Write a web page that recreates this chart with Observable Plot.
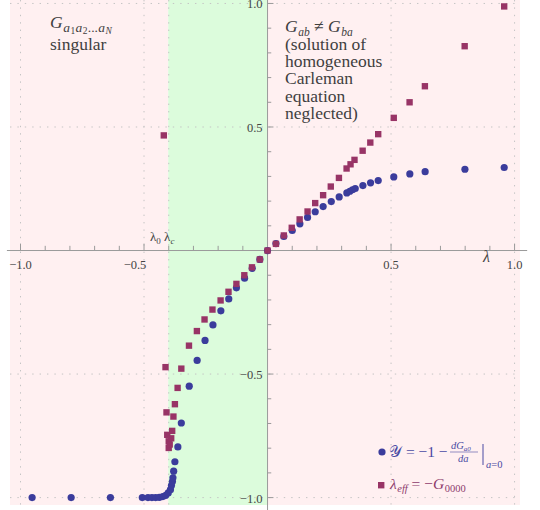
<!DOCTYPE html>
<html>
<head>
<meta charset="utf-8">
<script src="https://cdn.jsdelivr.net/npm/d3@7"></script>
<script src="https://cdn.jsdelivr.net/npm/@observablehq/plot@0.6"></script>
<style>
  html, body { margin: 0; padding: 0; background: #fff; }
  #chart svg { display: block; }
  #chart svg text { font-family: "Liberation Serif", "Times New Roman", "DejaVu Serif", serif; }
</style>
</head>
<body>
<div id="chart"></div>
<script>
// Series 𝒴 = −1 − dG_a0/da |_{a=0}  (circles)
const yCalX = [-0.953, -0.795, -0.636, -0.507, -0.484, -0.468, -0.453, -0.438, -0.424, -0.412, -0.402,
  -0.393, -0.389, -0.385, -0.383, -0.380, -0.375, -0.363, -0.349, -0.317, -0.285, -0.253, -0.221,
  -0.189, -0.157, -0.126, -0.093, -0.062, -0.031, 0, 0.034, 0.066, 0.100, 0.131, 0.162, 0.193,
  0.225, 0.258, 0.290, 0.321, 0.333, 0.344, 0.355, 0.386, 0.417, 0.448, 0.511, 0.576, 0.638,
  0.799, 0.958];
const yCalY = [-1.0, -1.0, -1.0, -1.0, -1.0, -1.0, -1.0, -0.999, -0.996, -0.991, -0.981,
  -0.968, -0.951, -0.935, -0.920, -0.893, -0.855, -0.795, -0.698, -0.549, -0.445, -0.364, -0.301,
  -0.244, -0.196, -0.151, -0.112, -0.072, -0.036, 0, 0.028, 0.057, 0.081, 0.108, 0.134, 0.157,
  0.178, 0.198, 0.217, 0.233, 0.240, 0.246, 0.251, 0.263, 0.274, 0.283, 0.298, 0.310, 0.319,
  0.329, 0.336];

// Series λ_eff = −G_0000  (squares)
const lamEffX = [-0.420, -0.413, -0.409, -0.406, -0.400, -0.400, -0.396, -0.390, -0.386, -0.381,
  -0.375, -0.364, -0.349, -0.318, -0.286, -0.255, -0.223, -0.190, -0.158, -0.126, -0.094, -0.063,
  -0.031, 0, 0.034, 0.066, 0.098, 0.130, 0.162, 0.193, 0.225, 0.256, 0.289, 0.320, 0.336, 0.352,
  0.385, 0.416, 0.448, 0.511, 0.575, 0.637, 0.798, 0.958];
const lamEffY = [0.466, -0.472, -0.655, -0.746, -0.772, -0.799, -0.785, -0.760, -0.730, -0.672,
  -0.622, -0.556, -0.478, -0.385, -0.326, -0.279, -0.239, -0.202, -0.167, -0.135, -0.100, -0.068,
  -0.036, 0, 0.027, 0.061, 0.092, 0.126, 0.158, 0.192, 0.224, 0.259, 0.294, 0.332, 0.349, 0.367,
  0.404, 0.437, 0.471, 0.537, 0.600, 0.665, 0.827, 0.988];

// Critical coupling and axis ticks
const lambdaC = -0.40;
const xTickValues = d3.range(-10, 11).filter(i => i !== 0).map(i => i / 10);
const yTickValues = d3.range(-10, 11).filter(i => i !== 0).map(i => i / 10);
const xTickLabels = [-1.0, -0.5, 0.5, 1.0];
const yTickLabels = [-1.0, -0.5, 0.5, 1.0];
const gridX = [-1.0, -0.5, lambdaC, 0.5, 1.0];
const gridY = [-1.0, -0.5, 0.5, 1.0];

const xDomain = [-1.0405, 1.024];
const yDomain = [-1.032, 1.012];

// Regions: singular / physical / asymmetric
const regionStart = [xDomain[0], lambdaC, 0];
const regionEnd = [lambdaC, 0, xDomain[1]];
const regionKind = ["singular", "physical", "asymmetric"];

const calRows = yCalX.map((x, i) => ({x, y: yCalY[i]}));
const effRows = lamEffX.map((x, i) => ({x, y: lamEffY[i]}));
const regions = regionKind.map((k, i) => ({k, x1: regionStart[i], x2: regionEnd[i]}));

const blue = "#3b3c9c";
const plum = "#983466";
const serif = "Liberation Serif, Times New Roman, DejaVu Serif, serif";
const fmt = d => (d < 0 ? "\u2212" : "") + Math.abs(d).toFixed(1);
const isMajor = d => Math.abs(Math.round(d * 10)) % 5 === 0;

const plot = Plot.plot({
  width: 540,
  height: 510,
  marginLeft: 10,
  marginRight: 20,
  marginTop: 0,
  marginBottom: 5,
  x: {domain: xDomain, axis: null},
  y: {domain: yDomain, axis: null},
  style: {fontFamily: serif, background: "white", overflow: "visible"},
  marks: [
    Plot.rect(regions, {x1: "x1", x2: "x2", fill: d => d.k === "physical" ? "#dcfcdc" : "#fff0f1"}),
    Plot.ruleX(gridX, {stroke: "#c4c4c4", strokeWidth: 1, strokeDasharray: "1.4,6"}),
    Plot.ruleY(gridY, {stroke: "#c4c4c4", strokeWidth: 1, strokeDasharray: "1.4,6"}),
    // axes through the origin
    Plot.ruleY([0], {x1: -1.053, x2: 1.053, stroke: "#9a9a9a", strokeWidth: 1}),
    Plot.ruleX([0], {y1: -1.06, y2: 1.02, stroke: "#9a9a9a", strokeWidth: 1}),
    Plot.ruleX(xTickValues, {y1: 0, y2: d => isMajor(d) ? 0.026 : 0.017, stroke: "#9a9a9a"}),
    Plot.ruleY(yTickValues, {x1: 0, x2: d => isMajor(d) ? 0.026 : 0.017, stroke: "#9a9a9a"}),
    Plot.text(xTickLabels.filter(d => d !== -0.5), {x: d => d, y: 0, dy: 14, text: fmt, fontSize: 12.5, fill: "#444"}),
    Plot.text(xTickLabels.filter(d => d === -0.5), {x: d => d, y: 0, dy: 14, dx: -9, text: fmt, fontSize: 12.5, fill: "#444"}),
    Plot.text(yTickLabels, {x: 0, y: d => d, dx: -5, dy: 1, textAnchor: "end", text: fmt, fontSize: 12.5, fill: "#444"}),
    // data
    Plot.dot(calRows, {x: "x", y: "y", r: 3.6, fill: blue}),
    Plot.dot(effRows, {x: "x", y: "y", r: 3.6, symbol: "square", fill: plum})
  ]
});

document.getElementById("chart").appendChild(plot);

// Annotations in rich text (subscripts etc.)
const svg = d3.select(plot);

function rich(x, y, parts, color, size) {
  const t = svg.append("text")
    .attr("x", x).attr("y", y)
    .attr("fill", color)
    .attr("text-anchor", "start")
    .style("font-family", serif)
    .style("font-size", size + "px");
  for (const [str, opt = {}] of parts) {
    const s = t.append("tspan")
      .attr("y", y + (opt.shift || 0))
      .style("font-size", (opt.size || size) + "px")
      .text(str);
    if (opt.italic) s.style("font-style", "italic");
    if (opt.family) s.style("font-family", opt.family);
    if (opt.dx) s.attr("dx", opt.dx);
  }
  return t;
}

const txt = "#3f3f3f";
// upper-left region label
rich(50, 28, [
  ["G", {italic: true}],
  ["a", {italic: true, size: 13.5, shift: 4, dx: 0.6}],
  ["1", {size: 9.5, shift: 6, dx: 0.4}],
  ["a", {italic: true, size: 13.5, shift: 4, dx: 0.4}],
  ["2", {size: 9.5, shift: 6, dx: 0.4}],
  ["...", {size: 13.5, shift: 4, dx: 0.4}],
  ["a", {italic: true, size: 13.5, shift: 4, dx: 0.4}],
  ["N", {italic: true, size: 9.5, shift: 6, dx: 0.4}]
], txt, 17.5);
rich(50, 50, [["singular"]], txt, 17.5);

// upper-right region label
rich(285, 32, [
  ["G", {italic: true}],
  ["ab", {italic: true, size: 11.5, shift: 4, dx: 0.6}],
  [" \u2260 ", {}],
  ["G", {italic: true}],
  ["ba", {italic: true, size: 11.5, shift: 4, dx: 0.6}]
], txt, 17.5);
["(solution of", "homogeneous", "Carleman", "equation", "neglected)"].forEach((line, i) => {
  rich(285, 50 + i * 17.2, [[line]], txt, 17.5);
});

// axis symbol and critical-coupling markers
rich(483, 262, [["\u03BB", {italic: true}]], "#444", 16);
rich(150, 241, [
  ["\u03BB"],
  ["0", {size: 9, shift: 3}],
  [" \u03BB", {}],
  ["c", {italic: true, size: 9, shift: 3}]
], "#444", 13);

// legend
const legBlue = "#4a4aa3";
const legPlum = "#8d3b6c";
svg.append("circle").attr("cx", 382).attr("cy", 452).attr("r", 3.6).attr("fill", blue);
svg.append("rect").attr("x", 378).attr("y", 482).attr("width", 6.4).attr("height", 6.4).attr("fill", plum);

rich(389, 457, [
  ["\uD835\uDCB4", {family: "DejaVu Sans, Noto Sans, serif"}],
  [" = \u22121 \u2212", {}]
], legBlue, 15.5);
rich(451, 449, [
  ["d", {italic: true}],
  ["G", {italic: true}],
  ["a0", {italic: true, size: 7, shift: 2}]
], legBlue, 10.5);
svg.append("line").attr("x1", 450).attr("x2", 478).attr("y1", 452).attr("y2", 452)
  .attr("stroke", legBlue).attr("stroke-width", 0.6);
rich(458, 462, [["da", {italic: true}]], legBlue, 10.5);
svg.append("line").attr("x1", 483).attr("x2", 483).attr("y1", 444).attr("y2", 465)
  .attr("stroke", legBlue).attr("stroke-width", 1);
rich(486, 468, [["a", {italic: true}], ["=0"]], legBlue, 10.5);

rich(390, 489, [
  ["\u03BB", {italic: true}],
  ["eff", {italic: true, size: 10.5, shift: 3, dx: 0.5}],
  [" = \u2212", {}],
  ["G", {italic: true}],
  ["0000", {size: 10.5, shift: 3, dx: 0.5}]
], legPlum, 15.5);
</script>
</body>
</html>
